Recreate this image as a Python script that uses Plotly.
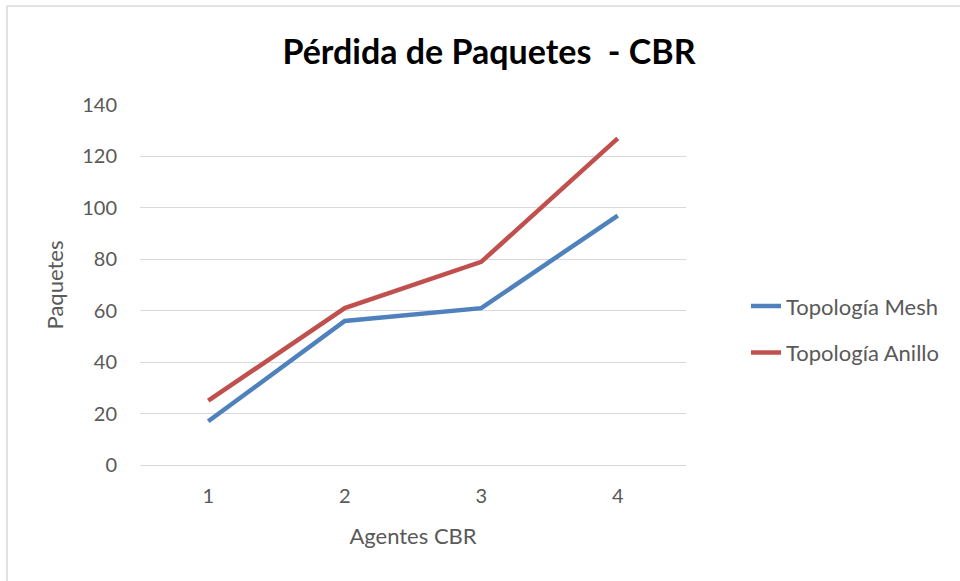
import plotly.graph_objects as go

categories = ["1", "2", "3", "4"]
mesh = [17, 56, 61, 97]
anillo = [25, 61, 79, 127]
series_names = ["Topología Mesh", "Topología Anillo"]
y_ticks = [0, 20, 40, 60, 80, 100, 120, 140]

W, H = 960, 581
L, R, T, B = 140, 274, 105, 116
pw, ph = W - L - R, H - T - B

font_fam = "Lato, 'Open Sans', sans-serif"
grey = "#595959"

fig = go.Figure()
fig.add_trace(go.Scatter(x=categories, y=mesh, mode="lines", name=series_names[0],
                         line=dict(color="#4F81BD", width=4.5), legendgroup="a"))
fig.add_trace(go.Scatter(x=categories, y=anillo, mode="lines", name=series_names[1],
                         line=dict(color="#C0504D", width=4.5), legendgroup="b"))

bx = (7 - L) / pw
by = 1 + (T - 6) / ph
fig.add_shape(type="line", xref="paper", yref="paper", x0=bx, x1=bx, y0=-2, y1=by,
              line=dict(color="#D9D9D9", width=1.5))
fig.add_shape(type="line", xref="paper", yref="paper", x0=bx, x1=3, y0=by, y1=by,
              line=dict(color="#D9D9D9", width=1.5))

fig.update_layout(
    width=W, height=H,
    margin=dict(l=L, r=R, t=T, b=B),
    paper_bgcolor="white", plot_bgcolor="white",
    font=dict(family=font_fam, color=grey, size=20),
    title=dict(text="<b>Pérdida de Paquetes  - CBR</b>", x=(489 - L) / pw, xref="paper",
               xanchor="center", y=1 - 52 / H, yanchor="middle",
               font=dict(family=font_fam, size=34, color="black")),
    xaxis=dict(type="category", range=[-0.5, 3.5], showgrid=False, showline=False,
               zeroline=False, ticks="", ticklabelstandoff=17,
               tickfont=dict(size=20, color=grey),
               title=dict(text="Agentes CBR", font=dict(size=22, color=grey), standoff=22)),
    yaxis=dict(range=[0, 140], tickvals=y_ticks, showgrid=True, gridcolor="#D9D9D9",
               gridwidth=1.3, zeroline=True, zerolinecolor="#D9D9D9", zerolinewidth=1.3,
               showline=False, ticks="", ticklabelstandoff=22,
               tickfont=dict(size=20, color=grey),
               title=dict(text="Paquetes", font=dict(size=22, color=grey), standoff=12)),
    legend=dict(x=1 + (746 - L - pw) / pw, xanchor="left", y=0.376, yanchor="middle",
                font=dict(size=22, color=grey), tracegroupgap=15,
                bgcolor="rgba(0,0,0,0)"),
    showlegend=True,
)

fig.write_html("out.html", config={"displayModeBar": False},
               post_script="document.body.style.margin='0';")
